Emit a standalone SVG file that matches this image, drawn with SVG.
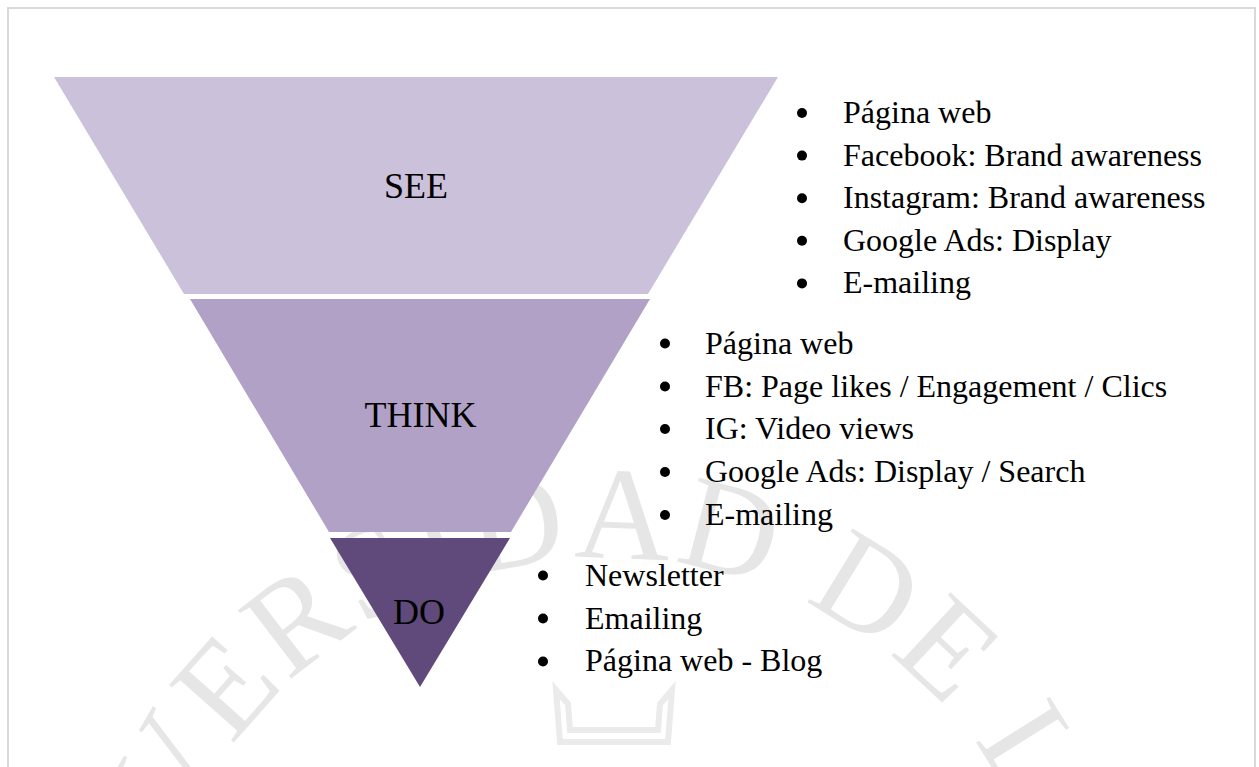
<svg xmlns="http://www.w3.org/2000/svg" width="1259" height="767" viewBox="0 0 1259 767">
  <defs>
    <style>
      .stage-label { font-family: "Liberation Serif", "Times New Roman", serif; font-size: 36px; fill: #000; text-anchor: middle; }
      .item { font-family: "Liberation Serif", "Times New Roman", serif; font-size: 32px; fill: #000; }
      .dot { fill: #000; }
      .mark { font-family: "Liberation Serif", "Times New Roman", serif; font-size: 132px; letter-spacing: 4px; fill: #e6e6e6; }
    </style>
    <!-- baseline circle for the background seal lettering -->
    <path id="sealArc" d="M 524.8,1475 A 462 462 0 1 1 685.2,1475"/>
  </defs>

  <rect width="1259" height="767" fill="#fff"/>

  <!-- page frame -->
  <path d="M 8,767 L 8,8 L 1255,8 L 1255,767" fill="none" stroke="#d9d9d9" stroke-width="2"/>

  <!-- background seal -->
  <g id="seal">
    <text class="mark"><textPath href="#sealArc" startOffset="50%" text-anchor="middle">UNIVERSIDAD DE LIMA</textPath></text>
    <path d="M 556,690 L 560,742 L 668,742 L 672,690 L 660,704 L 658,730 L 570,730 L 568,704 Z" fill="none" stroke="#ebebeb" stroke-width="6"/>
  </g>

  <!-- funnel stages -->
  <g id="see">
    <polygon points="54,77 778,77 648,294 184,294" fill="#cbc1db"/>
    <text class="stage-label" x="416" y="198">SEE</text>
  </g>
  <g id="think">
    <polygon points="190,299 650,299 511,532 329,532" fill="#b1a1c7"/>
    <text class="stage-label" x="420.5" y="427">THINK</text>
  </g>
  <g id="do">
    <polygon points="330,538 510,538 420,687" fill="#604a7b"/>
    <text class="stage-label" x="419" y="624">DO</text>
  </g>

  <!-- channel lists -->
  <g id="see-list">
    <circle class="dot" cx="802" cy="113" r="5"/>
    <circle class="dot" cx="802" cy="155.6" r="5"/>
    <circle class="dot" cx="802" cy="198.2" r="5"/>
    <circle class="dot" cx="802" cy="240.8" r="5"/>
    <circle class="dot" cx="802" cy="283.4" r="5"/>
    <text class="item" x="843" y="123">Página web</text>
    <text class="item" x="843" y="165.6">Facebook: Brand awareness</text>
    <text class="item" x="843" y="208.2">Instagram: Brand awareness</text>
    <text class="item" x="843" y="250.8">Google Ads: Display</text>
    <text class="item" x="843" y="293.4">E-mailing</text>
  </g>
  <g id="think-list">
    <circle class="dot" cx="665" cy="343.5" r="5"/>
    <circle class="dot" cx="665" cy="386.5" r="5"/>
    <circle class="dot" cx="665" cy="429" r="5"/>
    <circle class="dot" cx="665" cy="472" r="5"/>
    <circle class="dot" cx="665" cy="515" r="5"/>
    <text class="item" x="705" y="353.5">Página web</text>
    <text class="item" x="705" y="396.5">FB: Page likes / Engagement / Clics</text>
    <text class="item" x="705" y="439">IG: Video views</text>
    <text class="item" x="705" y="482">Google Ads: Display / Search</text>
    <text class="item" x="705" y="525">E-mailing</text>
  </g>
  <g id="do-list">
    <circle class="dot" cx="543" cy="575.5" r="5"/>
    <circle class="dot" cx="543" cy="618.5" r="5"/>
    <circle class="dot" cx="543" cy="661.5" r="5"/>
    <text class="item" x="585" y="585.5">Newsletter</text>
    <text class="item" x="585" y="628.5">Emailing</text>
    <text class="item" x="585" y="671">Página web - Blog</text>
  </g>
</svg>
